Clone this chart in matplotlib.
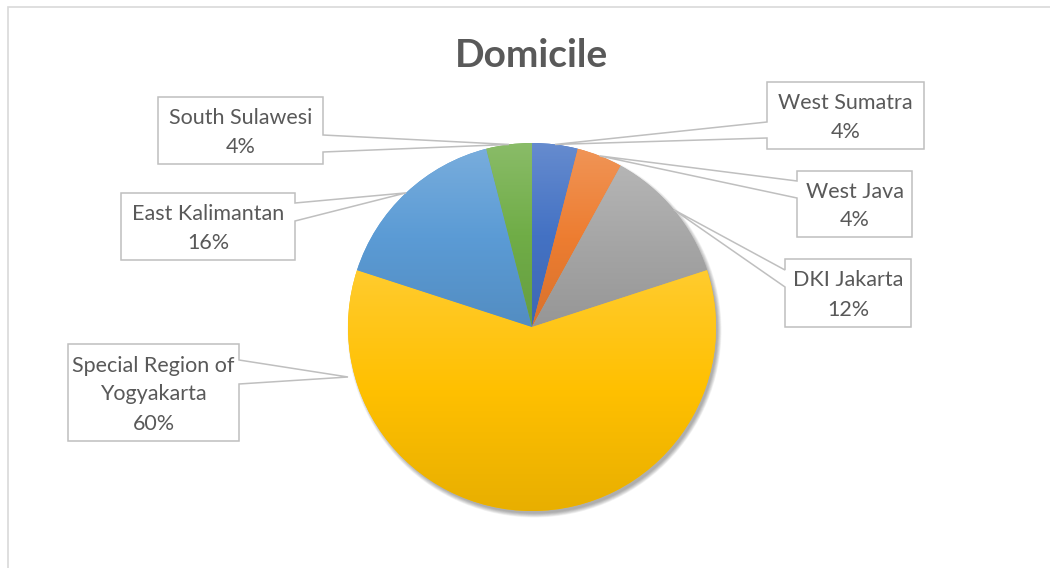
import numpy as np
import matplotlib.pyplot as plt
from matplotlib.patches import Polygon, Circle
from matplotlib.colors import to_rgb

# respondents per province of domicile (25 in total)
regions = ['West Sumatra', 'West Java', 'DKI Jakarta',
           'Special Region of\nYogyakarta', 'East Kalimantan', 'South Sulawesi']
respondents = [1, 1, 3, 15, 4, 1]
slice_colors = ['#4472C4', '#ED7D31', '#A5A5A5', '#FFC000', '#5B9BD5', '#70AD47']

W, H = 1050, 568
CX, CY, R = 532, 327, 184   # pie centre / radius in pixels (y down)

# callout boxes: left, top, right, bottom, upper and lower pointer anchors
boxes = [
    (767, 82, 924, 149, 122, 138),
    (797, 171, 912, 237, 181, 198),
    (785, 259, 911, 327, 270, 287),
    (68, 344, 239, 441, 360, 384),
    (121, 193, 295, 260, 203, 221),
    (158, 97, 323, 164, 135, 152),
]
tip_override = {3: (348, 377)}

text_col = '#595959'
fonts = ['Lato', 'DejaVu Sans']


def fy(y):
    return H - y


def mix(c, other, t):
    c = np.array(to_rgb(c))
    return c + (np.array(other) - c) * t


fig = plt.figure(figsize=(W / 100, H / 100), dpi=100)
ax = fig.add_axes([0, 0, 1, 1])

# soft drop shadow towards the lower right
for k in range(10):
    ax.add_patch(Circle((CX + 2.5, fy(CY) - 3.5), R - 1 + k * 0.45, color='black',
                        alpha=0.035, lw=0, zorder=0.5))

wedges, _ = ax.pie(respondents, startangle=90, counterclock=False,
                   center=(CX, fy(CY)), radius=R, colors=slice_colors,
                   wedgeprops=dict(linewidth=0))
ax.set_xlim(0, W)
ax.set_ylim(0, H)
ax.set_autoscale_on(False)
ax.axis('off')

# top-to-bottom gradient inside every slice
t = np.linspace(0, 1, 256)
for w, col in zip(wedges, slice_colors):
    top = mix(col, (1, 1, 1), 0.18)
    base = np.array(to_rgb(col))
    bottom = mix(col, (0, 0, 0), 0.09)
    rows = np.where(t[:, None] < 0.5,
                    bottom + (base - bottom) * (t[:, None] / 0.5),
                    base + (top - base) * ((t[:, None] - 0.5) / 0.5))
    img = rows[:, None, :]
    bb = w.get_path().get_extents()
    im = ax.imshow(img, extent=[bb.x0, bb.x1, bb.y0, bb.y1], origin='lower',
                   aspect='auto', interpolation='bilinear', zorder=w.get_zorder())
    im.set_clip_path(w)

ax.set_xlim(0, W)
ax.set_ylim(0, H)

# chart frame
ax.plot([8, 8, W], [0, fy(7), fy(7)], color='#D9D9D9', lw=1.2, zorder=1,
        solid_joinstyle='miter')

ax.text(CX, fy(67), 'Domicile', ha='center', va='baseline', fontsize=28,
        fontweight='bold', color=text_col, family=fonts)

total = sum(respondents)
for i, (w, name, n) in enumerate(zip(wedges, regions, respondents)):
    x0, y0, x1, y1, a1, a2 = boxes[i]
    if i in tip_override:
        tx, ty = tip_override[i]
    else:
        ang = np.deg2rad((w.theta1 + w.theta2) / 2)
        tx = CX + R * np.cos(ang)
        ty = CY - R * np.sin(ang)
    if x0 > CX:
        pts = [(x0, y0), (x1, y0), (x1, y1), (x0, y1), (x0, a2), (tx, ty), (x0, a1)]
    else:
        pts = [(x0, y0), (x1, y0), (x1, a1), (tx, ty), (x1, a2), (x1, y1), (x0, y1)]
    ax.add_patch(Polygon([(px, fy(py)) for px, py in pts], closed=True,
                         facecolor='white', edgecolor='#BFBFBF', lw=1.1,
                         joinstyle='miter', zorder=3))

    lines = name.split('\n') + [f'{round(100 * n / total)}%']
    mid = (y0 + y1) / 2
    step = 29
    for j, line in enumerate(lines):
        yc = mid + (j - (len(lines) - 1) / 2) * step
        ax.text((x0 + x1) / 2, fy(yc + 8), line, ha='center', va='baseline',
                fontsize=15.5, color=text_col, family=fonts, zorder=4)

fig.savefig('out.png', dpi=100)
